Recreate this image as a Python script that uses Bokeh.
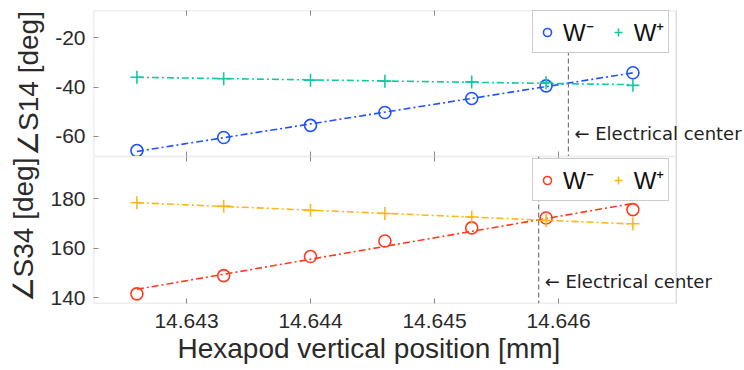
import numpy as np
from bokeh.plotting import figure
from bokeh.layouts import column
from bokeh.models import (Range1d, LinearAxis, Span, Label, Legend, LegendItem,
                          FixedTicker, BoxAnnotation, Title)
from bokeh.embed import file_html
from bokeh.resources import INLINE

# ---- data ----
x_pos = [14.6426, 14.6433, 14.6440, 14.6446, 14.6453, 14.6459, 14.6466]
s14_wminus = [-65.7, -60.4, -55.5, -50.3, -44.6, -39.5, -34.2]
s14_wplus = [-36.0, -36.6, -37.2, -37.6, -37.9, -38.2, -39.3]
s34_wminus = [141.5, 148.9, 156.6, 162.9, 168.2, 172.2, 175.6]
s34_wplus = [178.4, 177.0, 175.3, 174.0, 172.6, 171.2, 169.9]
center_s14 = 14.64608
center_s34 = 14.64584
x_ticks = [14.643, 14.644, 14.645, 14.646]
s14_ticks = [-60, -40, -20]
s34_ticks = [140, 160, 180]
legend_labels = ["W\u207b", "W\u207a"]
center_text = "\u2190 Electrical center"
x_title = "Hexapod vertical position [mm]"

X_START, X_BOX_END, X_FRAME_END = 14.64225, 14.64695, 14.6475

BLUE = "#1f52ff"
TEAL = "#12c9a2"
RED = "#ff3b1f"
YELLOW = "#ffb61a"
AX = "#8a8a8a"
TXT = "#2a2a2a"
FONT = "Liberation Sans"

x_range = Range1d(X_START, X_FRAME_END)


def fit(xs, ys):
    xs = np.asarray(xs)
    x0 = xs.mean()
    k, b = np.polyfit(xs - x0, np.asarray(ys), 1)
    xe = np.array([xs.min(), xs.max()])
    return xe, k * (xe - x0) + b


def base_axis(ax):
    ax.axis_line_color = None
    ax.major_tick_line_color = AX
    ax.major_tick_line_width = 1
    ax.major_tick_in = 5
    ax.major_tick_out = 0
    ax.minor_tick_line_color = None
    ax.major_label_text_font = FONT
    ax.major_label_text_color = TXT
    ax.major_label_text_font_size = "21px"
    ax.axis_label_text_font = FONT
    ax.axis_label_text_color = TXT
    ax.axis_label_text_font_style = "normal"


def make_fig(height, yr, yticks, top_border, bottom_border, ylabel, with_x_labels):
    p = figure(width=744, height=height, x_range=x_range, y_range=Range1d(*yr),
               min_border_left=93, min_border_right=0, min_border_top=top_border,
               min_border_bottom=bottom_border, output_backend="svg",
               toolbar_location=None)
    xa = p.xaxis[0]
    ya = p.yaxis[0]
    base_axis(xa)
    base_axis(ya)
    xa.ticker = FixedTicker(ticks=x_ticks)
    ya.ticker = FixedTicker(ticks=yticks)
    ya.major_label_overrides = {t: str(t) for t in yticks}
    ya.major_label_standoff = 8
    ya.axis_label = ylabel
    ya.axis_label_text_font_size = "28px"
    ya.axis_label_standoff = 8
    if not with_x_labels:
        xa.major_label_text_font_size = "0px"
        xa.major_label_standoff = 0
    else:
        xa.major_label_standoff = 10
        # x title aligned on the visible box (not the wider frame)
        p.add_layout(Title(text=x_title, align="left", offset=84, standoff=0,
                           text_font=FONT, text_font_size="28px",
                           text_font_style="normal", text_color=TXT), "below")
    top = LinearAxis(ticker=FixedTicker(ticks=x_ticks))
    base_axis(top)
    top.major_label_text_font_size = "0px"
    top.major_label_standoff = 0
    p.add_layout(top, "above")
    p.xgrid.visible = False
    p.ygrid.visible = False
    p.outline_line_color = None
    p.background_fill_color = "white"
    p.border_fill_color = "white"
    # the MATLAB-style box around the data area
    p.add_layout(BoxAnnotation(left=X_START, right=X_BOX_END, fill_alpha=0,
                               line_color=AX, line_width=1.5))
    return p


def add_series(p, ys_minus, ys_plus, c_minus, c_plus, center, label_y, leg_xy):
    xe, ye = fit(x_pos, ys_minus)
    p.line(xe, ye, line_color=c_minus, line_width=1.6, line_dash="7 3 2 3")
    xe, ye = fit(x_pos, ys_plus)
    p.line(xe, ye, line_color=c_plus, line_width=1.6, line_dash="7 3 2 3")
    r1 = p.scatter(x_pos, ys_minus, marker="circle", size=12, fill_color=None,
                   line_color=c_minus, line_width=1.6)
    r2 = p.scatter(x_pos, ys_plus, marker="cross", size=13,
                   line_color=c_plus, line_width=1.6)
    p.add_layout(Span(location=center, dimension="height", line_color="#777777",
                      line_width=1.2, line_dash="5 3"))
    p.add_layout(Label(x=center, y=label_y, x_offset=6, text=center_text,
                       text_font="DejaVu Sans", text_font_size="18px",
                       text_baseline="middle", text_color="#222222"))
    leg = Legend(items=[LegendItem(label=legend_labels[0], renderers=[r1]),
                        LegendItem(label=legend_labels[1], renderers=[r2])],
                 orientation="horizontal", location=leg_xy,
                 label_text_font=FONT, label_text_font_size="24px",
                 label_text_color="#111111", glyph_width=20, glyph_height=20,
                 label_standoff=6, spacing=14, padding=4, margin=0,
                 border_line_color="#9a9a9a", border_line_width=1,
                 background_fill_color="white", background_fill_alpha=1.0)
    p.add_layout(leg)


p1 = make_fig(156, (-68.1, -9.0), s14_ticks, 10, 0, "\u2220S14 [deg]", False)
add_series(p1, s14_wminus, s14_wplus, BLUE, TEAL, center_s14, -58.8, (439, 103))

p2 = make_fig(214, (137.6, 197.1), s34_ticks, 0, 67, "\u2220S34 [deg]", True)
add_series(p2, s34_wminus, s34_wplus, RED, YELLOW, center_s34, 146.6, (439, 102))

layout = column(p1, p2, spacing=0)
open("out.html", "w").write(file_html(layout, INLINE))
